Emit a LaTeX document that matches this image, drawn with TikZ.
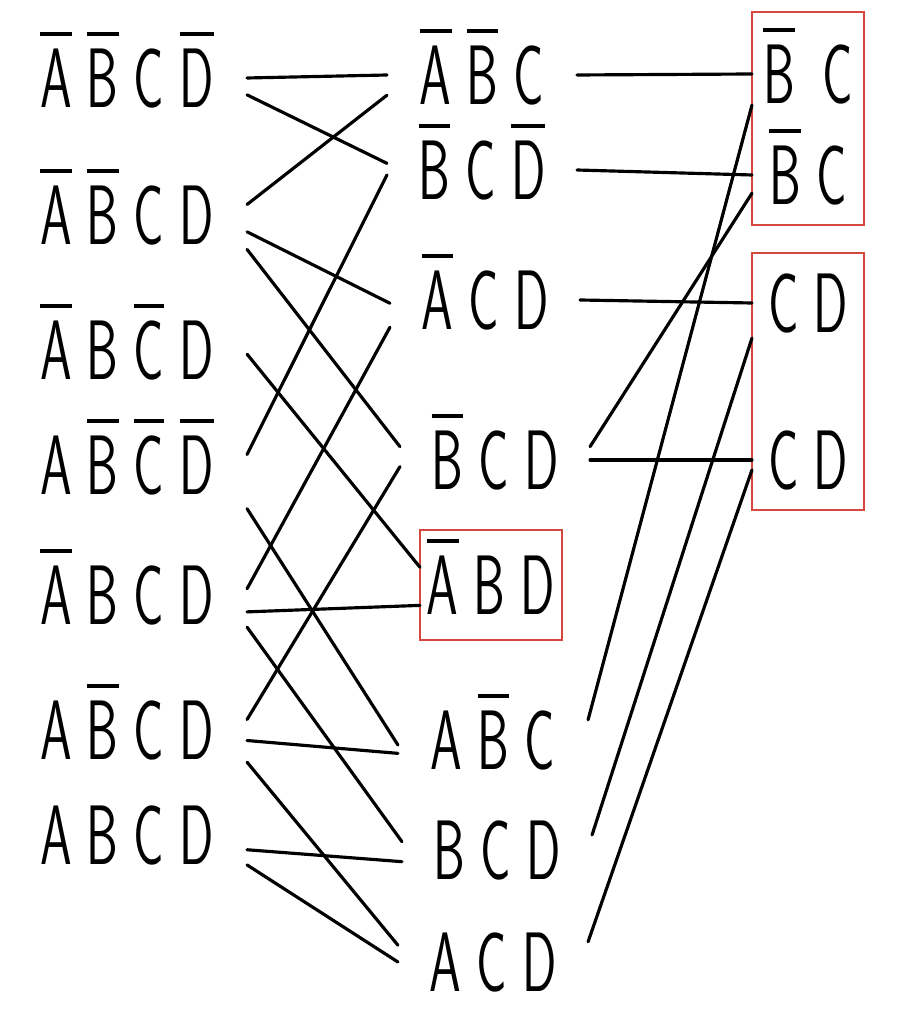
\documentclass[tikz,border=0pt]{standalone}
\usepackage{graphicx}
\usepackage{tikz}

\newcommand\nt[1]{\leavevmode\vbox{\hrule height 0.9pt\kern 3.8pt\hbox{#1}}}
\newcommand\term[1]{\scalebox{0.6}[1]{#1}}
\newcommand\gp{\hspace{0.3em}}
\definecolor{boxred}{RGB}{214,72,62}

\begin{document}
\begin{tikzpicture}[x=0.01cm, y=-0.01cm,
  every node/.style={font=\sffamily\fontsize{24}{28}\selectfont, inner sep=0pt, outer sep=0pt, text height=20.4pt, text depth=3.6pt},
  lterm/.style={minimum width=2.4cm, minimum height=1cm},
  mterm/.style={minimum width=1.9cm, minimum height=1cm},
  rterm/.style={minimum width=1.12cm, minimum height=1cm},
  wire/.style={line width=0.9pt, line cap=round},
  redbox/.style={draw=boxred, line width=0.7pt}]
\useasboundingbox (0,0) rectangle (900,1010);

\node[lterm] (l1) at (127,78) {\term{\nt{A}\gp\nt{B}\gp C\gp\nt{D}}};
\node[lterm] (l2) at (127,215) {\term{\nt{A}\gp\nt{B}\gp C\gp D}};
\node[lterm] (l3) at (127,350) {\term{\nt{A}\gp B\gp\nt{C}\gp D}};
\node[lterm] (l4) at (127,465) {\term{A\gp\nt{B}\gp\nt{C}\gp\nt{D}}};
\node[lterm] (l5) at (127,595) {\term{\nt{A}\gp B\gp C\gp D}};
\node[lterm] (l6) at (127,730) {\term{A\gp\nt{B}\gp C\gp D}};
\node[lterm] (l7) at (127,835) {\term{A\gp B\gp C\gp D}};

\node[mterm] (m1) at (482,75) {\term{\nt{A}\gp\nt{B}\gp C}};
\node[mterm] (m2) at (482,170) {\term{\nt{B}\gp C\gp\nt{D}}};
\node[mterm] (m3) at (485,300) {\term{\nt{A}\gp C\gp D}};
\node[mterm] (m4) at (495,460) {\term{\nt{B}\gp C\gp D}};
\node[redbox, minimum width=1.42cm, minimum height=1.1cm] (m5) at (491,585) {\term{\nt{A}\gp B\gp D}};
\node[mterm] (m6) at (493,740) {\term{A\gp\nt{B}\gp C}};
\node[mterm] (m7) at (497,850) {\term{B\gp C\gp D}};
\node[mterm] (m8) at (493,962) {\term{A\gp C\gp D}};

\node[rterm] (r1) at (808,74) {\term{\nt{B}\hspace{0.55em}C}};
\node[rterm] (r2) at (808,175) {\term{\nt{B}\gp C}};
\node[rterm] (r3) at (808,303) {\term{C\gp D}};
\node[rterm] (r4) at (808,460) {\term{C\gp D}};

\draw[redbox] ([yshift=0.12cm]r1.north west) rectangle (r2.south east);
\draw[redbox] (r3.north west) rectangle (r4.south east);

\draw[wire] (l1.0) -- (m1.180);
\draw[wire] (l1.-8) -- (m2.176);
\draw[wire] (l2.5) -- (m1.192);
\draw[wire] (l2.-8) -- (m3.182);
\draw[wire] (l2.-16) -- (m4.172);
\draw[wire] (l3.-2) -- (m5.166);
\draw[wire] (l4.5) -- (m2.183);
\draw[wire] (l4.-20) -- (m6.183);
\draw[wire] (l5.3) -- (m3.196);
\draw[wire] (l5.-8) -- (m5.196);
\draw[wire] (l5.-15) -- (m7.175);
\draw[wire] (l6.5) -- (m4.184);
\draw[wire] (l6.-5) -- (m6.188);
\draw[wire] (l6.-15) -- (m8.170);
\draw[wire] (l7.-7) -- (m7.187);
\draw[wire] (l7.-14) -- (m8.180);

\draw[wire] (m1.0) -- (r1.180);
\draw[wire] (m2.0) -- (r2.180);
\draw[wire] (m3.0) -- (r3.180);
\draw[wire] (m4.0) -- (r4.180);
\draw[wire] (m4.8) -- (r2.198);
\draw[wire] (m6.12) -- (r1.209);
\draw[wire] (m7.9) -- (r3.212);
\draw[wire] (m8.12) -- (r4.190);
\end{tikzpicture}
\end{document}
